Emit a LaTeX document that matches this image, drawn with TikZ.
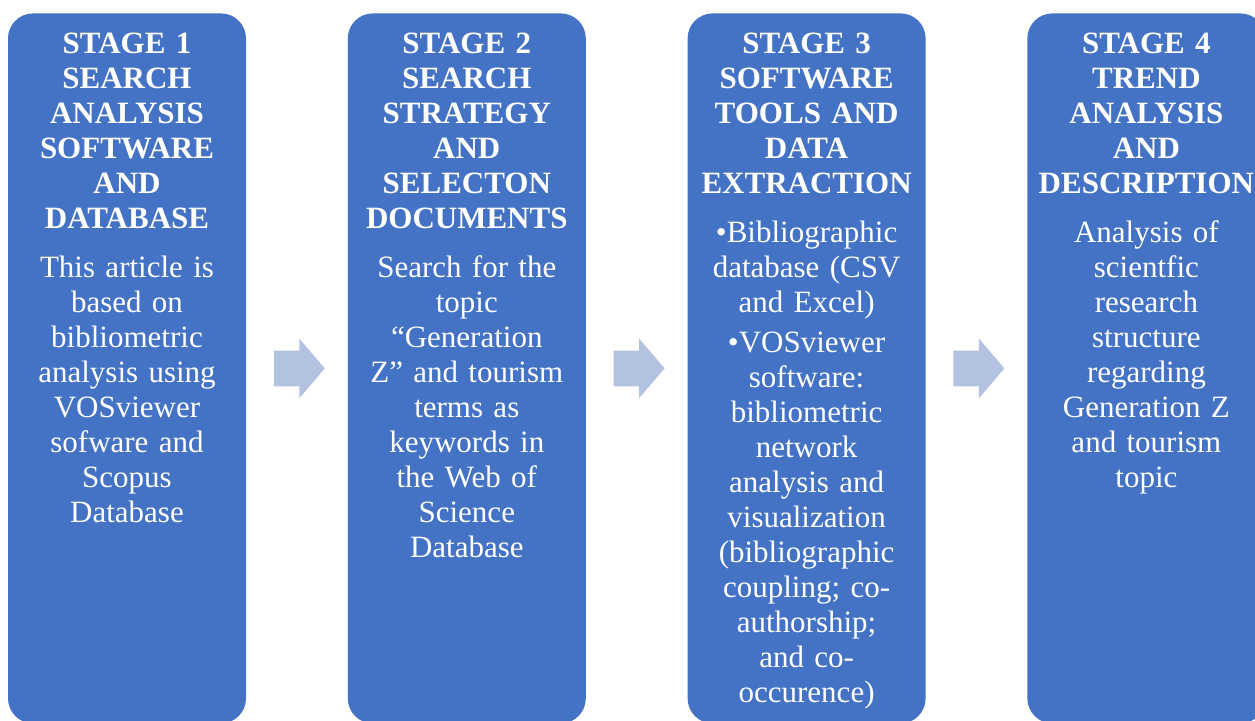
\documentclass[tikz,border=0pt]{standalone}
\usepackage{fontspec}
\setmainfont{Liberation Serif}
\usetikzlibrary{shapes.arrows, positioning}
\definecolor{stageblue}{HTML}{4472C4}
\definecolor{arrowblue}{HTML}{B4C2E1}

\begin{document}
\begin{tikzpicture}[x=0.5pt, y=-0.5pt,
    stagebox/.style={fill=stageblue, rounded corners=12.5pt, minimum width=119pt,
        minimum height=355pt, anchor=north, inner sep=0pt},
    stagetext/.style={text=white, align=center, text width=125pt, inner sep=0pt,
        font=\fontsize{15.5}{17.5}\selectfont},
    stagearrow/.style={single arrow, fill=arrowblue, minimum height=25.5pt,
        single arrow head extend=6pt, single arrow tip angle=99,
        inner xsep=0pt, inner ysep=8.75pt}]
                        \useasboundingbox (0, 0) rectangle (1255, 720);
                        \clip (0, 0) rectangle (1255, 720);

                        \node[stagebox] (box1) at (127, 13) {};
                        \node[stagebox, right=50.5pt of box1] (box2) {};
                        \node[stagebox, right=50.5pt of box2] (box3) {};
                        \node[stagebox, right=50.5pt of box3] (box4) {};

                        \node[stagearrow, right=13.5pt of box1] (arrow1) {};
                        \node[stagearrow, right=13.5pt of box2] (arrow2) {};
                        \node[stagearrow, right=13.5pt of box3] (arrow3) {};

                        \node[stagetext, below=10pt of box1.north] (text1) {%
                            {\bfseries STAGE 1\\SEARCH\\ANALYSIS\\SOFTWARE\\AND\\DATABASE}\\[7pt]
                            This article is\\based on\\bibliometric\\analysis using\\VOSviewer\\sofware and\\Scopus\\Database};
                        \node[stagetext, below=10pt of box2.north] (text2) {%
                            {\bfseries STAGE 2\\SEARCH\\STRATEGY\\AND\\SELECTON\\DOCUMENTS}\\[7pt]
                            Search for the\\topic\\ “Generation\\Z” and tourism\\terms as\\keywords in\\the Web of\\Science\\Database};
                        \node[stagetext, below=10pt of box3.north] (text3) {%
                            {\bfseries STAGE 3\\SOFTWARE\\TOOLS AND\\DATA\\EXTRACTION}\\[7pt]
                            •Bibliographic\\database (CSV\\and Excel)\\[2.5pt]
                            •VOSviewer\\software:\\bibliometric\\network\\analysis and\\visualization\\(bibliographic\\coupling; co-\\authorship;\\and co-\\occurence)};
                        \node[stagetext, below=10pt of box4.north] (text4) {%
                            {\bfseries STAGE 4\\TREND\\ANALYSIS\\AND\\DESCRIPTION}\\[7pt]
                            Analysis of\\scientfic\\research\\structure\\regarding\\Generation Z\\and tourism\\topic};
                    \end{tikzpicture}
\end{document}
